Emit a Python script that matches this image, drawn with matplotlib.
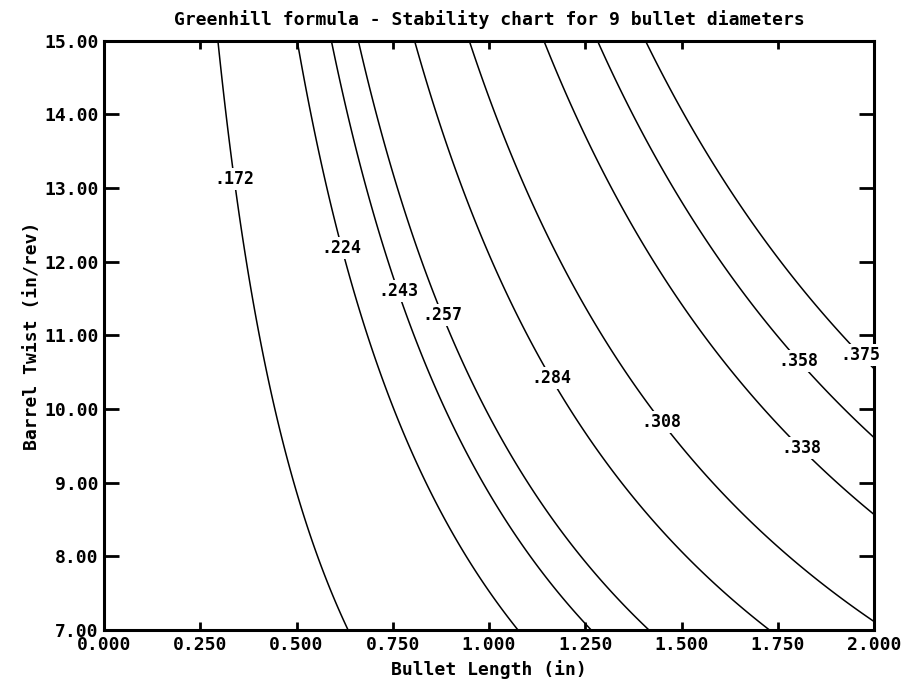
import numpy as np
import matplotlib
matplotlib.use('Agg')
import matplotlib.pyplot as plt

# Greenhill formula: twist = C * D^2 / L
greenhill_c = 150.0
diameters = [0.172, 0.224, 0.243, 0.257, 0.284, 0.308, 0.338, 0.358, 0.375]
# where each contour label sits (bullet length, twist)
label_spots = [(0.335, 13.12), (0.623, 12.20), (0.771, 11.61), (0.888, 11.30),
               (1.151, 10.39), (1.436, 9.78), (1.813, 9.48), (1.813, 10.70),
               (1.956, 10.70)]
x_ticks = [0.0, 0.25, 0.5, 0.75, 1.0, 1.25, 1.5, 1.75, 2.0]
y_ticks = [7, 8, 9, 10, 11, 12, 13, 14, 15]

plt.rcParams['font.family'] = ['DejaVu Sans Mono', 'DejaVu Sans']
plt.rcParams['font.weight'] = 'bold'

fig = plt.figure(figsize=(9.02, 6.79), dpi=100)
ax = fig.add_axes([0.1153, 0.0722, 0.8537, 0.8678])

L = np.linspace(0.001, 2.0, 600)
T = np.linspace(7.0, 15.0, 600)
LL, TT = np.meshgrid(L, T)
D = np.sqrt(LL * TT / greenhill_c)

cs = ax.contour(LL, TT, D, levels=diameters, colors='black', linewidths=1.1)
labels = ax.clabel(cs, inline=False, manual=label_spots,
                   fmt=lambda v: ('%.3f' % v)[1:], fontsize=12)
for t in labels:
    t.set_rotation(0)
    t.set_fontweight('bold')
    t.set_clip_on(False)
    t.set_bbox(dict(facecolor='white', edgecolor='none', pad=1.5))

ax.set_xlim(0, 2.0)
ax.set_ylim(7, 15)
ax.set_xticks(x_ticks)
ax.set_yticks(y_ticks)
ax.set_xticklabels(['%.3f' % v for v in x_ticks])
ax.set_yticklabels(['%.2f' % v for v in y_ticks])
ax.tick_params(axis='x', direction='in', length=6, width=2, top=True,
               labelsize=13, pad=4.5)
ax.tick_params(axis='y', direction='in', length=11, width=2, right=True,
               labelsize=13, pad=4)
for s in ax.spines.values():
    s.set_linewidth(2.2)

ax.set_title('Greenhill formula - Stability chart for 9 bullet diameters',
             fontsize=13, fontweight='bold', pad=11)
ax.set_xlabel('Bullet Length (in)', fontsize=13, fontweight='bold', labelpad=4)
ax.set_ylabel('Barrel Twist (in/rev)', fontsize=13, fontweight='bold', labelpad=2)

fig.savefig('out.png', dpi=100, facecolor='white')
